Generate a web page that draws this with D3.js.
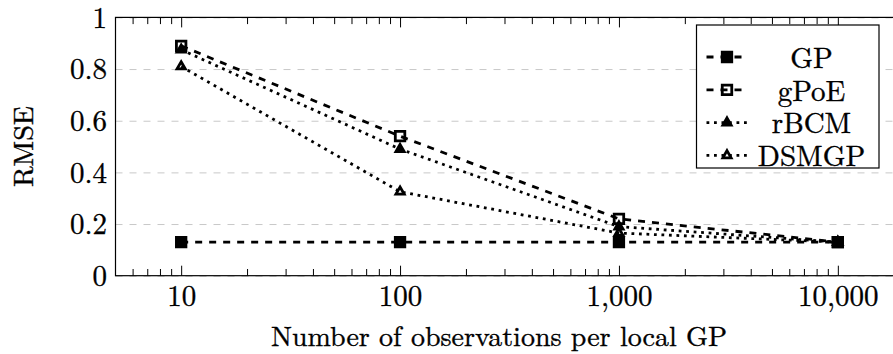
<!DOCTYPE html>
<html>
<head>
<meta charset="utf-8">
<script src="https://cdn.jsdelivr.net/npm/d3@7"></script>
<style>
  body { margin: 0; background: #fff; }
</style>
</head>
<body>
<svg id="chart" width="893" height="354"></svg>
<script>
// RMSE against number of observations per local GP
const observations = [10, 100, 1000, 10000];
const gpValues    = [0.13, 0.13, 0.13, 0.13];
const gpoeValues  = [0.89, 0.54, 0.22, 0.13];
const rbcmValues  = [0.875, 0.49, 0.19, 0.13];
const dsmgpValues = [0.81, 0.325, 0.165, 0.13];
const seriesNames = ["GP", "gPoE", "rBCM", "DSMGP"];
const xTickValues = [10, 100, 1000, 10000];
const yTickValues = [0, 0.2, 0.4, 0.6, 0.8, 1];
const xLabel = "Number of observations per local GP";
const yLabel = "RMSE";

const FONT = '"Latin Modern Roman", "CMU Serif", "Liberation Serif", serif';
const FS = 29;        // tick and legend font size
const TITLE_FS = 28;  // axis title font size

const svg = d3.select("#chart");
const plotLeft = 115.5, plotRight = 903.5, plotTop = 17.4, plotBottom = 275.7;
const lw = 2.8; // plot line width

const x = d3.scaleLog().domain([Math.pow(10, 0.7), Math.pow(10, 4.3)]).range([plotLeft, plotRight]);
const y = d3.scaleLinear().domain([0, 1]).range([plotBottom, plotTop]);

function styleText(sel, size) {
  return sel.style("font-family", FONT).attr("font-size", size).attr("fill", "#000")
    .attr("stroke", "#000").attr("stroke-width", 0.35);
}

// horizontal grid
const grid = svg.append("g").attr("transform", `translate(${plotLeft},0)`)
  .call(d3.axisLeft(y).tickValues(yTickValues).tickSize(-(plotRight - plotLeft)).tickFormat(""));
grid.select(".domain").remove();
grid.selectAll("line").attr("stroke", "#c8c8c8").attr("stroke-width", 1).attr("stroke-dasharray", "7,7");

// minor ticks on a log axis: 2..9 in every decade
const minorTicks = [];
for (let k = 0; k <= 4; k++) for (let m = 2; m <= 9; m++) {
  const v = m * Math.pow(10, k);
  if (v > x.domain()[0] && v < x.domain()[1]) minorTicks.push(v);
}

function tickAxis(gen, ty, values, size, fmt) {
  const g = svg.append("g").attr("transform", `translate(0,${ty})`)
    .call(gen(x).tickValues(values).tickSizeInner(size).tickSizeOuter(0).tickFormat(fmt));
  g.select(".domain").remove();
  g.selectAll("line").attr("stroke", "#000").attr("stroke-width", 1);
  return g;
}
tickAxis(d3.axisBottom, plotBottom, minorTicks, -6.7, "");
tickAxis(d3.axisTop, plotTop, minorTicks, -6.7, "");
tickAxis(d3.axisTop, plotTop, xTickValues, -10, "");
const xAxis = tickAxis(d3.axisBottom, plotBottom, xTickValues, -10, d3.format(","));
styleText(xAxis.selectAll("text").attr("y", 30).attr("dy", 0), FS);

// y tick labels
const yAxis = svg.append("g").attr("transform", `translate(${plotLeft},0)`)
  .call(d3.axisLeft(y).tickValues(yTickValues).tickSize(0).tickFormat(d => String(d)));
yAxis.select(".domain").remove();
yAxis.selectAll(".tick text").attr("x", -8.5).attr("dy", "0.34em");
styleText(yAxis.selectAll(".tick text"), FS);

// frame
svg.append("rect").attr("x", plotLeft).attr("y", plotTop).attr("width", plotRight - plotLeft).attr("height", plotBottom - plotTop)
  .attr("fill", "none").attr("stroke", "#000").attr("stroke-width", 1.2);

// axis titles
styleText(svg.append("text").attr("x", 499).attr("y", 346).attr("text-anchor", "middle").text(xLabel), TITLE_FS);
const yt = svg.append("g").attr("transform", `translate(33,${(plotTop + plotBottom) / 2}) rotate(-90)`);
styleText(yt.append("text").attr("text-anchor", "middle").text(yLabel), TITLE_FS);

// series styles
const DASHED = "7,7", DOTTED = "2.8,4.7";
const r = 4.75; // mark size
const series = [
  { name: seriesNames[0], values: gpValues,    dash: DASHED, mark: "square",   fill: true },
  { name: seriesNames[1], values: gpoeValues,  dash: DASHED, mark: "square",   fill: false },
  { name: seriesNames[2], values: rbcmValues,  dash: DOTTED, mark: "triangle", fill: true },
  { name: seriesNames[3], values: dsmgpValues, dash: DOTTED, mark: "triangle", fill: false },
];

function markPath(type) {
  if (type === "square") return `M${-r},${-r}H${r}V${r}H${-r}Z`;
  const c = Math.cos(Math.PI / 6) * r, s = 0.5 * r;
  return `M0,${-r}L${c},${s}L${-c},${s}Z`;
}

function drawMark(g, s, cx, cy) {
  g.append("path").attr("d", markPath(s.mark))
    .attr("transform", `translate(${cx},${cy})`)
    .attr("fill", s.fill ? "#000" : "none")
    .attr("stroke", "#000").attr("stroke-width", lw).attr("stroke-linejoin", "miter");
}

const line = d3.line().x(d => x(d[0])).y(d => y(d[1]));
series.forEach(s => {
  const g = svg.append("g");
  const pts = observations.map((o, i) => [o, s.values[i]]);
  g.append("path").attr("d", line(pts)).attr("fill", "none").attr("stroke", "#000")
    .attr("stroke-width", lw).attr("stroke-dasharray", s.dash);
  pts.forEach(p => drawMark(g, s, x(p[0]), y(p[1])));
});

// legend
const lg = svg.append("g");
lg.append("rect").attr("x", 696.5).attr("y", 25).attr("width", 182.5).attr("height", 143)
  .attr("fill", "#fff").attr("stroke", "#000").attr("stroke-width", 1.2);
series.forEach((s, i) => {
  const cy = 57 + i * 32.8;
  lg.append("line").attr("x1", 706.5).attr("x2", 747).attr("y1", cy).attr("y2", cy)
    .attr("stroke", "#000").attr("stroke-width", lw).attr("stroke-dasharray", s.dash);
  drawMark(lg, s, 727, cy);
  styleText(lg.append("text").attr("x", 811.5).attr("y", cy).attr("dy", "0.37em")
    .attr("text-anchor", "middle").text(s.name), FS);
});
</script>
</body>
</html>
